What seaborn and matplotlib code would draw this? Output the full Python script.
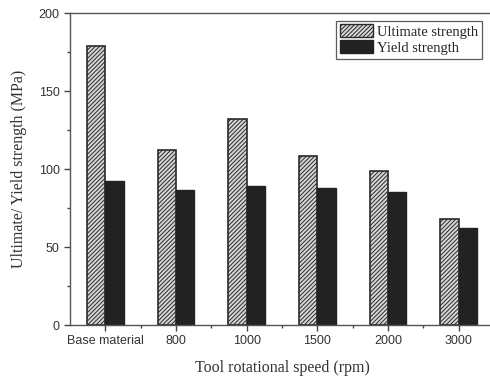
import matplotlib
matplotlib.use("Agg")
import matplotlib.pyplot as plt
import numpy as np
import pandas as pd
import seaborn as sns
from matplotlib.patches import Patch
from matplotlib.ticker import MultipleLocator, FixedLocator

# data
speeds = ["Base material", "800", "1000", "1500", "2000", "3000"]
ultimate = [179, 112, 132, 108.5, 99, 68]
yield_str = [92, 86.5, 89, 88, 85, 62.5]

df = pd.DataFrame({
    "speed": speeds * 2,
    "value": ultimate + yield_str,
    "kind": ["Ultimate strength"] * len(speeds) + ["Yield strength"] * len(speeds),
})

sns.set_style("ticks")
plt.rcParams["hatch.linewidth"] = 0.7

fig = plt.figure(figsize=(4.9, 3.76), dpi=100)
ax = fig.add_axes([70 / 490, 1 - 325 / 376, 424 / 490, 312 / 376])

sns.barplot(data=df, x="speed", y="value", hue="kind", order=speeds,
            hue_order=["Ultimate strength", "Yield strength"],
            palette=["#d9d9d9", "#222222"], width=0.52, gap=0,
            saturation=1, edgecolor="#222222", linewidth=1.0,
            legend=False, ax=ax)

n = len(speeds)
for i, p in enumerate(ax.patches[:2 * n]):
    if i < n:
        p.set_hatch("////////")
        p.set_facecolor("#d6d6d6")
        p.set_edgecolor("#2a2a2a")
        p.set_linewidth(1.2)
    else:
        p.set_facecolor("#222222")
        p.set_edgecolor("#222222")

ax.set_xlim(-0.5, n - 0.5)
ax.set_ylim(0, 200)
ax.yaxis.set_major_locator(MultipleLocator(50))
ax.yaxis.set_minor_locator(MultipleLocator(25))
ax.xaxis.set_minor_locator(FixedLocator(np.arange(0.5, n - 0.5, 1)))

for side in ["left", "bottom", "top"]:
    ax.spines[side].set_visible(True)
    ax.spines[side].set_color("#555555")
    ax.spines[side].set_linewidth(1.0)
ax.spines["right"].set_visible(False)

ax.tick_params(axis="both", which="major", direction="out", length=4,
               width=1, color="#444444", labelsize=9, labelcolor="#333333")
ax.tick_params(axis="both", which="minor", direction="out", length=2.5,
               width=1, color="#444444")
for lab in ax.get_xticklabels() + ax.get_yticklabels():
    lab.set_fontfamily("Liberation Sans")

ax.set_xlabel("Tool rotational speed (rpm)", fontfamily="Liberation Serif",
              fontsize=11.5, color="#333333", labelpad=9)
ax.set_ylabel("Ultimate/ Yield strength (MPa)", fontfamily="Liberation Serif",
              fontsize=11.5, color="#333333", labelpad=8)

handles = [Patch(facecolor="#d6d6d6", edgecolor="#2a2a2a", hatch="////////"),
           Patch(facecolor="#222222", edgecolor="#222222")]
leg = ax.legend(handles, ["Ultimate strength", "Yield strength"],
                loc="upper left", bbox_to_anchor=(266 / 424, 0.975),
                frameon=True, fancybox=False, edgecolor="#333333",
                prop={"family": "Liberation Serif", "size": 10.5},
                handlelength=2.3, handleheight=1.0, handletextpad=0.25,
                borderpad=0.25, labelspacing=0.1, borderaxespad=0)
leg.get_frame().set_linewidth(0.9)

fig.savefig("out.png", dpi=100)
